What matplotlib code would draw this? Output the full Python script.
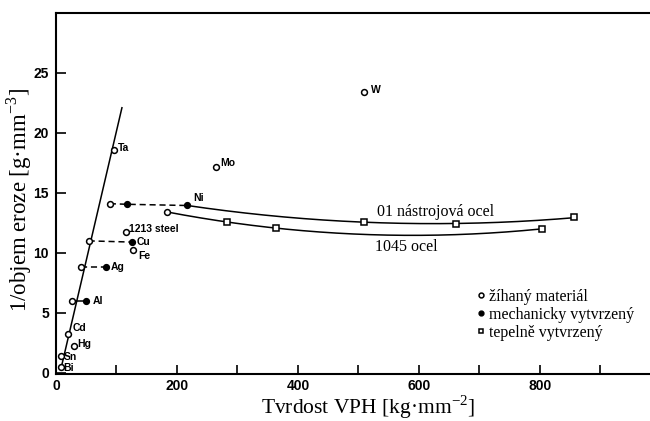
import numpy as np
import matplotlib
matplotlib.use("Agg")
import matplotlib.pyplot as plt
from matplotlib.lines import Line2D
from matplotlib.ticker import MultipleLocator, FuncFormatter


# annealed material (open circles)
ANNEALED_NAMES = ["Bi", "Sn", "Hg", "Cd", "Al", "Ag", "Cu", "Ni", "Ta",
                  "1213 steel", "Fe", "Mo", "W", "1045"]
ANNEALED_X = [7.5, 7.5, 29.5, 20, 27, 42, 54, 89, 96, 116, 127, 264, 510, 184]
ANNEALED_Y = [0.5, 1.4, 2.25, 3.2, 5.95, 8.85, 11.0, 14.1, 18.6, 11.7, 10.2, 17.2, 23.4, 13.4]

# cold worked (filled circles)
COLD_NAMES = ["Al", "Ag", "Cu", "Ni", "Ni"]
COLD_X = [49, 82, 125, 118, 216]
COLD_Y = [5.95, 8.85, 10.9, 14.05, 13.95]

# heat treated (squares)
TOOL01_X = [510, 662, 857]
TOOL01_Y = [12.6, 12.4, 12.95]
STEEL1045_X = [282, 364, 803]
STEEL1045_Y = [12.6, 12.05, 12.0]

# straight line through the pure metals
FIT_X = [8, 109]
FIT_Y = [0.3, 22.1]

LABELS = ["Ta", "Mo", "W", "Ni", "1213 steel", "Cu", "Fe", "Ag", "Al", "Cd", "Hg", "Sn", "Bi"]

plt.rcParams["font.family"] = ["Liberation Serif", "DejaVu Serif"]
plt.rcParams["mathtext.fontset"] = "custom"
plt.rcParams["mathtext.rm"] = "Liberation Serif"

fig = plt.figure(figsize=(6.5, 4.21), dpi=100)
ax = fig.add_axes([56 / 650, 47 / 421, 594 / 650, 361 / 421])
ax.set_xlim(0, 982)
ax.set_ylim(-0.1, 30)

lw = 1.1
ms = 4.2
dash = (0, (4, 2.5))

# fitted line
ax.plot(FIT_X, FIT_Y, color="black", lw=lw, zorder=2)

# connections annealed -> cold worked
ann = dict(zip(ANNEALED_NAMES, zip(ANNEALED_X, ANNEALED_Y)))
ni_x = [ann["Ni"][0], COLD_X[3], COLD_X[4]]
ni_y = [ann["Ni"][1], COLD_Y[3], COLD_Y[4]]
ax.plot(ni_x, ni_y, color="black", lw=lw, ls=dash, zorder=2)
for name, cx, cy in zip(COLD_NAMES[:3], COLD_X[:3], COLD_Y[:3]):
    style = "-" if name == "Al" else dash
    ax.plot([ann[name][0], cx], [ann[name][1], cy], color="black", lw=lw, ls=style, zorder=2)

# steel curves (quadratic fits)
x01 = np.array([COLD_X[4]] + TOOL01_X)
y01 = np.array([COLD_Y[4]] + TOOL01_Y)
c01 = np.polyfit(x01, y01, 2)
xs = np.linspace(x01.min(), x01.max(), 200)
ax.plot(xs, np.polyval(c01, xs), color="black", lw=lw, zorder=2)

x45 = np.array([ann["1045"][0]] + STEEL1045_X)
y45 = np.array([ann["1045"][1]] + STEEL1045_Y)
c45 = np.polyfit(x45, y45, 2)
xs = np.linspace(x45.min(), x45.max(), 200)
ax.plot(xs, np.polyval(c45, xs), color="black", lw=lw, zorder=2)

# markers
ax.plot(ANNEALED_X, ANNEALED_Y, "o", ms=ms, mfc="white", mec="black", mew=1.1, zorder=3)
ax.plot(COLD_X, COLD_Y, "o", ms=ms, mfc="black", mec="black", zorder=3)
ax.plot(TOOL01_X + STEEL1045_X, TOOL01_Y + STEEL1045_Y, "s", ms=ms, mfc="white",
        mec="black", mew=1.1, zorder=3)

# element labels
points = {
    "Ta": ann["Ta"], "Mo": ann["Mo"], "W": ann["W"], "Ni": (COLD_X[4], COLD_Y[4]),
    "1213 steel": ann["1213 steel"], "Cu": (COLD_X[2], COLD_Y[2]), "Fe": ann["Fe"],
    "Ag": (COLD_X[1], COLD_Y[1]), "Al": (COLD_X[0], COLD_Y[0]), "Cd": ann["Cd"],
    "Hg": ann["Hg"], "Sn": ann["Sn"], "Bi": ann["Bi"],
}
offsets = {
    "Ta": (4, 2), "Mo": (5, 4), "W": (6, 2), "Ni": (7, 7), "1213 steel": (3, 3),
    "Cu": (5, 0), "Fe": (5, -6), "Ag": (5, 0), "Al": (7, 0), "Cd": (5, 6),
    "Hg": (3, 2), "Sn": (3, -1), "Bi": (3, -1),
}
lab_font = ["Liberation Sans", "DejaVu Sans"]
for name in LABELS:
    ax.annotate(name, points[name], xytext=offsets[name], textcoords="offset pixels",
                ha="left", va="center", fontsize=7.5, fontweight="bold", family=lab_font)

ax.text(531, 13.4, "01 nástrojová ocel", fontsize=11.5, ha="left", va="center")
ax.text(527, 10.5, "1045 ocel", fontsize=11.5, ha="left", va="center")

# axes styling
for side in ["top", "bottom", "left"]:
    ax.spines[side].set_linewidth(1.5)
ax.spines["right"].set_visible(False)

ax.xaxis.set_major_locator(MultipleLocator(100))
ax.xaxis.set_major_formatter(FuncFormatter(lambda v, p: f"{int(round(v))}" if round(v) % 200 == 0 else ""))
ax.set_yticks([0, 5, 10, 15, 20, 25])
ax.tick_params(axis="x", direction="in", length=6.5, width=1.2, pad=3.5, top=False)
ax.tick_params(axis="y", direction="in", length=7, width=1.2, pad=5, right=False)
for lbl in ax.get_xticklabels() + ax.get_yticklabels():
    lbl.set_family(lab_font)
    lbl.set_fontweight("bold")
    lbl.set_fontsize(10)

fig.text(368 / 650, 1 - 407 / 421, r"Tvrdost VPH [kg·mm$^{\mathregular{-2}}$]",
         fontsize=15.5, ha="center", va="center")
fig.text(19 / 650, 1 - 200 / 421, r"1/objem eroze [g·mm$^{\mathregular{-3}}$]",
         fontsize=16.5, ha="center", va="center", rotation=90)

handles = [
    Line2D([], [], ls="none", marker="o", ms=3.5, mfc="white", mec="black", mew=1.1),
    Line2D([], [], ls="none", marker="o", ms=3.5, mfc="black", mec="black"),
    Line2D([], [], ls="none", marker="s", ms=3.5, mfc="white", mec="black", mew=1.1),
]
ax.legend(handles, ["žíhaný materiál", "mechanicky vytvrzený", "tepelně vytvrzený"],
          loc="upper left", bbox_to_anchor=(0.707, 0.236), frameon=False,
          fontsize=11.5, handlelength=0.6, handletextpad=0.2, borderpad=0,
          borderaxespad=0, labelspacing=0.12)

fig.savefig("out.png", dpi=100)
